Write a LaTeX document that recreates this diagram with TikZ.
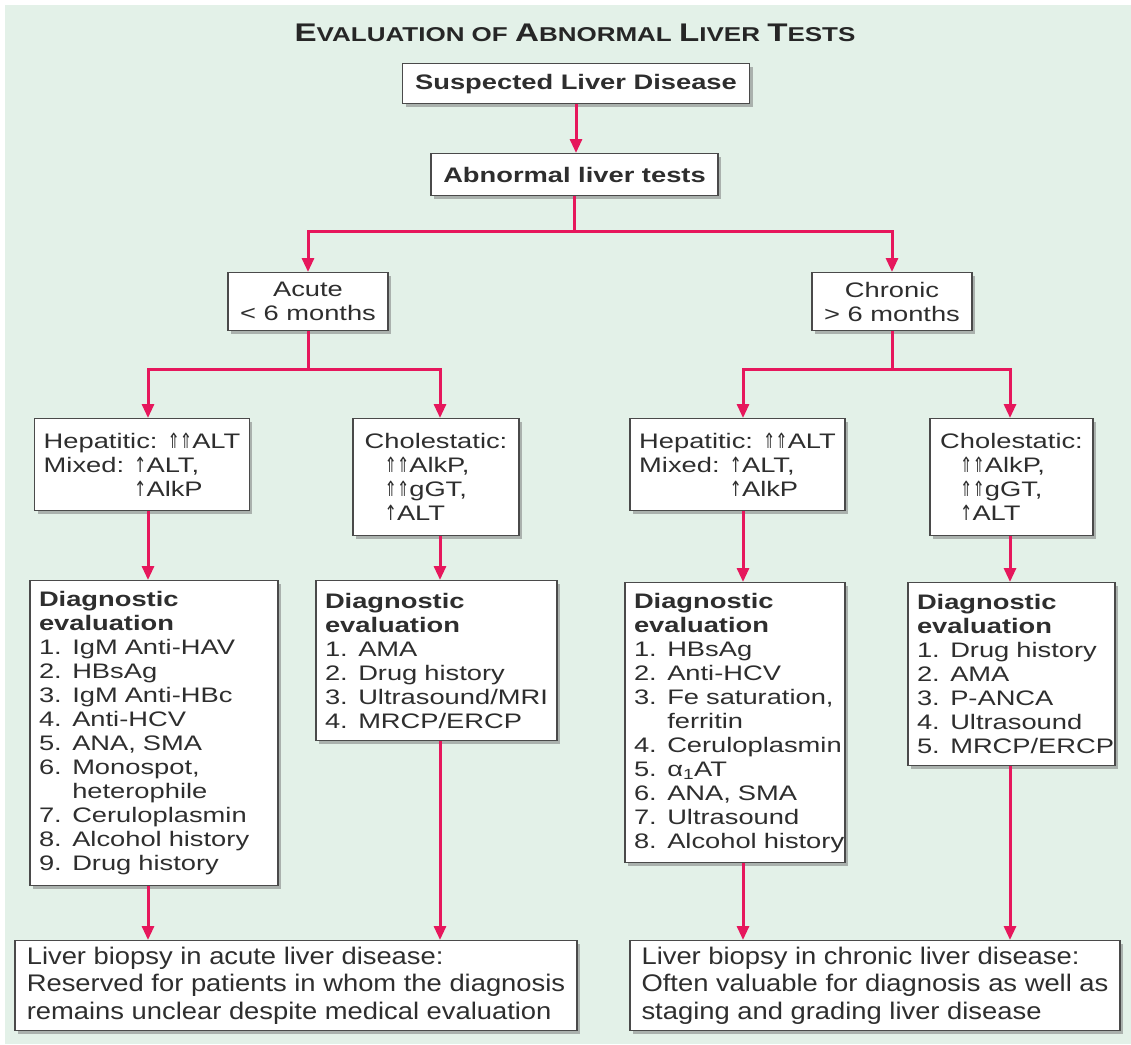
\documentclass[tikz,border=0pt]{standalone}
\usepackage{fontspec}
\setmainfont[FakeStretch=1.3]{Liberation Sans}
\newfontfamily\narrowfont[FakeStretch=1.14]{Liberation Sans}
\newfontfamily\arrowfont[FakeStretch=0.7]{DejaVu Sans}
\usetikzlibrary{arrows.meta,positioning,calc,shadows}
\definecolor{bgcol}{HTML}{E3F1E8}
\definecolor{ink}{HTML}{2E2E2E}
\definecolor{boxline}{HTML}{4A4A4A}
\definecolor{arrcol}{HTML}{E6175C}
\newcommand{\dblup}{{\arrowfont ⇑⇑}}
\newcommand{\oneup}{{\arrowfont ↑}}
\newcommand{\capsc}[2]{{\fontsize{25.5}{28}\selectfont #1}{\fontsize{20}{24}\selectfont #2}}

\begin{document}
\begin{tikzpicture}[x=1pt, y=-1pt, line join=miter,
  font=\fontsize{21}{24}\selectfont, text=ink,
  box/.style={draw=boxline, line width=1.4pt, fill=white, anchor=north,
              drop shadow={shadow xshift=3pt, shadow yshift=-3pt, fill=black!55},
              inner xsep=9pt, inner ysep=0pt},
  head/.style={box, font=\fontsize{21}{24}\selectfont\bfseries},
  lst/.style={box, align=left,
              execute at begin node={\rightskip=-30pt plus 1fil\relax}},
  note/.style={box, align=left, font=\narrowfont\fontsize{24}{27.5}\selectfont},
  fl/.style={arrcol, line width=3pt, -{Triangle[length=14pt,width=12pt]}}]

% ================================================ page
\fill[white] (0,0) rectangle (1131,1044);
\fill[bgcol] (5,5) rectangle (1131,1044);
\useasboundingbox (0,0) rectangle (1131,1044);

\node[font=\fontsize{20}{24}\selectfont\bfseries, text=black!85] (title) at (575,33)
  {\capsc{E}{VALUATION} OF \capsc{A}{BNORMAL} \capsc{L}{IVER} \capsc{T}{ESTS}};

% ================================================ top of the tree
\node[head, minimum width=347pt, minimum height=40pt] (sld) at (576,63) {Suspected Liver Disease};
\node[head, minimum width=287pt, minimum height=42pt] (alt) at (574.5,153) {Abnormal liver tests};
\node[box, align=center, minimum width=160pt, minimum height=58pt] (acute) at (308,272)
  {Acute\\< 6 months};
\node[box, align=center, minimum width=160pt, minimum height=58pt] (chronic) at (892,272)
  {Chronic\\> 6 months};

% arrow columns
\coordinate (ca) at (148,0);
\coordinate (cb) at (440,0);
\coordinate (cc) at (743,0);
\coordinate (cd) at (1010,0);

% ================================================ patterns
\node[box, align=left, minimum width=212pt, minimum height=92pt] (hepL) at (142,418)
  {Hepatitic: \dblup ALT\\Mixed: \oneup ALT,\\\phantom{Mixed: }\oneup AlkP};
\node[box, align=left, minimum width=166pt, minimum height=117pt] (cholL) at (436,418)
  {Cholestatic:\\\hspace*{20pt}\dblup AlkP,\\\hspace*{20pt}\dblup gGT,\\\hspace*{20pt}\oneup ALT};
\node[box, align=left, minimum width=215pt, minimum height=92pt] (hepR) at (737.5,418)
  {Hepatitic: \dblup ALT\\Mixed: \oneup ALT,\\\phantom{Mixed: }\oneup AlkP};
\node[box, align=left, minimum width=163pt, minimum height=117pt] (cholR) at (1011.5,418)
  {Cholestatic:\\\hspace*{20pt}\dblup AlkP,\\\hspace*{20pt}\dblup gGT,\\\hspace*{20pt}\oneup ALT};

% ================================================ diagnostic evaluation
\node[lst, text width=230pt, minimum height=305pt] (diagL1) at (154,580)
  {\textbf{Diagnostic}\\\textbf{evaluation}\\1. IgM Anti-HAV\\2. HBsAg\\3. IgM Anti-HBc\\
   4. Anti-HCV\\5. ANA, SMA\\6. Monospot,\\\phantom{6. }heterophile\\7. Ceruloplasmin\\
   8. Alcohol history\\9. Drug history};
\node[lst, text width=223pt, minimum height=160pt] (diagL2) at (436.5,580)
  {\textbf{Diagnostic}\\\textbf{evaluation}\\1. AMA\\2. Drug history\\3. Ultrasound/MRI\\
   4. MRCP/ERCP};
\node[lst, text width=202pt, minimum height=280pt] (diagR1) at (735,582)
  {\textbf{Diagnostic}\\\textbf{evaluation}\\1. HBsAg\\2. Anti-HCV\\3. Fe saturation,\\
   \phantom{3. }ferritin\\4. Ceruloplasmin\\5. α\textsubscript{1}AT\\6. ANA, SMA\\
   7. Ultrasound\\8. Alcohol history};
\node[lst, text width=189pt, minimum height=183pt] (diagR2) at (1011.5,582)
  {\textbf{Diagnostic}\\\textbf{evaluation}\\1. Drug history\\2. AMA\\3. P-ANCA\\
   4. Ultrasound\\5. MRCP/ERCP};

% ================================================ biopsy
\node[note, minimum width=562pt, minimum height=90pt] (bioL) at (296,940)
  {Liver biopsy in acute liver disease:\\Reserved for patients in whom the diagnosis\\
   remains unclear despite medical evaluation};
\node[note, minimum width=490pt, minimum height=90pt] (bioR) at (875,940)
  {Liver biopsy in chronic liver disease:\\Often valuable for diagnosis as well as\\
   staging and grading liver disease};

% ================================================ connectors
\draw[fl] (sld.south) -- (sld.south |- alt.north);
\draw[fl] (alt.south) -- ++(0,35) -| (acute.north);
\draw[fl] (alt.south) -- ++(0,35) -| (chronic.north);
\draw[fl] (acute.south) -- ++(0,38) -| (hepL.north -| ca);
\draw[fl] (acute.south) -- ++(0,38) -| (cholL.north -| cb);
\draw[fl] (chronic.south) -- ++(0,38) -| (hepR.north -| cc);
\draw[fl] (chronic.south) -- ++(0,38) -| (cholR.north -| cd);
\draw[fl] (hepL.south -| ca) -- (diagL1.north -| ca);
\draw[fl] (cholL.south -| cb) -- (diagL2.north -| cb);
\draw[fl] (hepR.south -| cc) -- (diagR1.north -| cc);
\draw[fl] (cholR.south -| cd) -- (diagR2.north -| cd);
\draw[fl] (diagL1.south -| ca) -- (bioL.north -| ca);
\draw[fl] (diagL2.south -| cb) -- (bioL.north -| cb);
\draw[fl] (diagR1.south -| cc) -- (bioR.north -| cc);
\draw[fl] (diagR2.south -| cd) -- (bioR.north -| cd);

\end{tikzpicture}
\end{document}
